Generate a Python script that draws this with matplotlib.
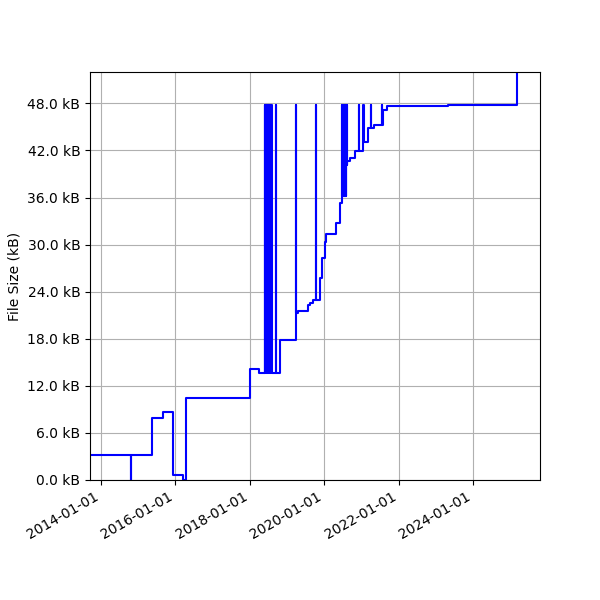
import matplotlib
matplotlib.use("Agg")
import matplotlib.pyplot as plt
import matplotlib.dates as mdates
from matplotlib.ticker import MultipleLocator, FuncFormatter
import numpy as np

plt.rcParams['path.simplify'] = False

# change points of the file size (kB), drawn as a step line
dates = [
    "2013-06-01", "2014-10-19", "2014-10-24", "2015-05-20", "2015-09-01",
    "2015-12-08", "2016-03-18", "2016-04-10", "2018-01-04", "2018-03-31",
    # burst of spikes mid 2018
    "2018-05-30", "2018-06-01", "2018-06-03", "2018-06-05", "2018-06-08", "2018-06-10",
    "2018-06-13", "2018-06-15", "2018-06-18", "2018-06-20", "2018-06-23", "2018-06-25",
    "2018-06-28", "2018-06-30", "2018-07-03", "2018-07-05", "2018-07-08", "2018-07-10",
    "2018-07-13", "2018-07-15", "2018-07-18", "2018-07-20", "2018-07-23", "2018-07-25",
    "2018-07-28", "2018-07-30", "2018-08-01", "2018-08-03",
    "2018-09-16", "2018-09-20", "2018-10-25",
    "2019-03-29", "2019-04-02", "2019-04-20", "2019-07-25", "2019-08-11",
    "2019-09-09", "2019-10-12", "2019-10-16", "2019-11-22", "2019-12-10",
    "2020-01-05", "2020-01-22", "2020-04-29", "2020-06-07", "2020-06-23",
    # burst of spikes mid 2020
    "2020-06-26", "2020-06-28", "2020-07-01", "2020-07-03", "2020-07-06", "2020-07-08",
    "2020-07-11", "2020-07-13", "2020-07-16", "2020-07-18", "2020-07-21", "2020-07-23",
    "2020-07-26", "2020-07-28", "2020-07-31", "2020-08-02", "2020-08-05", "2020-08-07",
    "2020-08-10", "2020-08-13", "2020-08-15",
    "2020-09-06", "2020-10-26", "2020-12-07", "2020-12-10", "2021-01-19",
    "2021-01-22", "2021-03-05", "2021-04-04", "2021-04-07", "2021-05-02",
    "2021-07-23", "2021-07-26", "2021-08-02", "2021-09-10", "2023-04-30",
    "2025-03-07", "2025-12-31",
]
sizes = [
    3.15, 0.0, 3.15, 7.95, 8.64,
    0.64, 0.0, 10.43, 14.2, 13.7,
    47.75, 13.7, 47.75, 13.7, 47.75, 13.7,
    47.75, 13.7, 47.75, 13.7, 47.75, 13.7,
    47.75, 13.7, 47.75, 13.7, 47.75, 13.7,
    47.75, 13.7, 47.75, 13.7, 47.75, 13.7,
    47.75, 13.7, 47.75, 13.7,
    47.75, 13.7, 17.87,
    47.75, 21.3, 21.5, 22.3, 22.6,
    23.0, 47.75, 22.9, 25.75, 28.3,
    30.3, 31.3, 32.8, 35.3, 36.2,
    47.75, 36.2, 47.75, 36.2, 47.75, 36.2,
    47.75, 36.2, 47.75, 36.2, 47.75, 36.2,
    47.75, 36.2, 47.75, 36.2, 47.75, 40.2,
    47.75, 40.2, 40.6,
    41.0, 41.9, 47.75, 41.9, 47.75,
    43.06, 44.9, 47.75, 44.9, 45.3,
    47.75, 45.3, 47.2, 47.7, 47.85,
    60.0, 60.0,
]

x = [np.datetime64(d) for d in dates]

fig, ax = plt.subplots(figsize=(6, 6), dpi=100)
ax.plot(x, sizes, drawstyle="steps-post", color="blue", lw=1.5)

ax.set_xlim(np.datetime64("2013-09-15"), np.datetime64("2025-10-20"))
ax.set_ylim(0, 52)
ax.yaxis.set_major_locator(MultipleLocator(6))
ax.yaxis.set_major_formatter(FuncFormatter(lambda v, p: f"{v:.1f} kB"))
ax.xaxis.set_major_locator(mdates.YearLocator(2))
ax.xaxis.set_major_formatter(mdates.DateFormatter("%Y-%m-%d"))
ax.set_ylabel("File Size (kB)")
ax.grid(True)

fig.autofmt_xdate()
fig.subplots_adjust(left=0.15, right=0.9, top=0.88, bottom=0.2)
fig.savefig("out.png", dpi=100)
